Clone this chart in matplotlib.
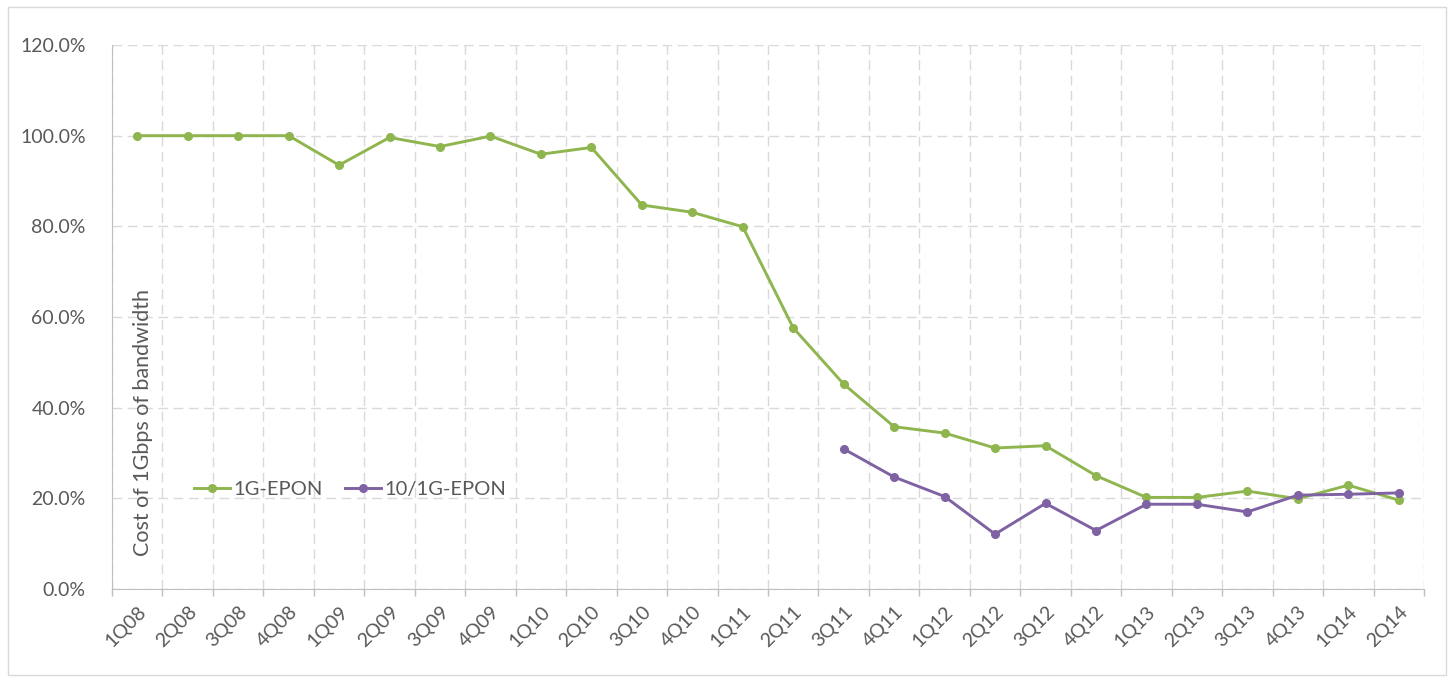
import matplotlib
matplotlib.use("Agg")
import matplotlib.pyplot as plt
from matplotlib.patches import Rectangle
from matplotlib.ticker import FuncFormatter, FixedLocator
import numpy as np

quarters = ["1Q08", "2Q08", "3Q08", "4Q08", "1Q09", "2Q09", "3Q09", "4Q09",
            "1Q10", "2Q10", "3Q10", "4Q10", "1Q11", "2Q11", "3Q11", "4Q11",
            "1Q12", "2Q12", "3Q12", "4Q12", "1Q13", "2Q13", "3Q13", "4Q13",
            "1Q14", "2Q14"]
epon_1g = [100.0, 100.0, 100.0, 100.0, 93.5, 99.6, 97.6, 99.9,
           95.9, 97.4, 84.7, 83.1, 79.9, 57.6, 45.2, 35.8,
           34.4, 31.1, 31.6, 25.0, 20.2, 20.2, 21.6, 19.9,
           22.9, 19.6]
epon_10g_quarters = ["3Q11", "4Q11", "1Q12", "2Q12", "3Q12", "4Q12",
                     "1Q13", "2Q13", "3Q13", "4Q13", "1Q14", "2Q14"]
epon_10g = [30.9, 24.7, 20.4, 12.1, 18.9, 12.9,
            18.7, 18.7, 17.0, 20.7, 20.9, 21.2]
y_ticks = [0, 20, 40, 60, 80, 100, 120]

GREEN = "#8FB54F"
PURPLE = "#7E62A3"
TXT = "#595959"
GRID = "#D9D9D9"
FONT = ["Lato", "DejaVu Sans"]

plt.rcParams["font.family"] = FONT

fig = plt.figure(figsize=(14.52, 6.81), dpi=100)
fig.patches.append(Rectangle((8 / 1452, 6 / 681), 1438 / 1452, 668 / 681,
                             transform=fig.transFigure, fill=False,
                             edgecolor="#D9D9D9", linewidth=1.0))
ax = fig.add_axes([112 / 1452, 1 - 589 / 681, 1312 / 1452, 544 / 681])

x = np.arange(len(quarters))
idx10 = [quarters.index(q) for q in epon_10g_quarters]

ax.plot(x, epon_1g, color=GREEN, lw=2.1, marker="o", ms=5.5,
        label="1G-EPON", zorder=3)
ax.plot(idx10, epon_10g, color=PURPLE, lw=2.1, marker="o", ms=5.5,
        label="10/1G-EPON", zorder=3)

ax.set_xlim(-0.5, len(quarters) - 0.5)
ax.set_ylim(0, 120)
ax.set_yticks(y_ticks)
ax.yaxis.set_major_formatter(FuncFormatter(lambda v, p: f"{v:.1f}%"))
ax.set_xticks(x)
ax.set_xticklabels(quarters, rotation=45, ha="right", va="top",
                   rotation_mode="anchor")
ax.xaxis.set_minor_locator(FixedLocator(np.arange(-0.5, len(quarters), 1.0)))

ax.tick_params(axis="y", length=0, pad=19, labelsize=14, labelcolor=TXT)
ax.tick_params(axis="x", which="major", length=0, pad=10, labelsize=14,
               labelcolor=TXT)
ax.tick_params(axis="x", which="minor", length=5, color="#BFBFBF", width=1)

ax.grid(axis="y", which="major", color=GRID, linestyle=(0, (7, 4)), lw=1.0)
ax.grid(axis="x", which="minor", color=GRID, linestyle=(0, (7, 4)), lw=1.0)
ax.grid(axis="x", which="major", visible=False)

for s in ["top", "right"]:
    ax.spines[s].set_visible(False)
ax.spines["left"].set_color("#BFBFBF")
ax.spines["bottom"].set_color("#BFBFBF")
ax.set_axisbelow(True)

ax.text(143 / 1452, 1 - 422 / 681, "Cost of 1Gbps of bandwidth",
        transform=fig.transFigure, rotation=90, ha="center", va="center",
        fontsize=15.5, color=TXT)

leg = ax.legend(loc="center left", bbox_to_anchor=(194 / 1452, 1 - 489 / 681),
                bbox_transform=fig.transFigure, ncol=2, frameon=False,
                fontsize=14.5, handlelength=1.8, handletextpad=0.15,
                columnspacing=1.1, borderaxespad=0, borderpad=0)
for t in leg.get_texts():
    t.set_color(TXT)

fig.savefig("out.png", dpi=100)
